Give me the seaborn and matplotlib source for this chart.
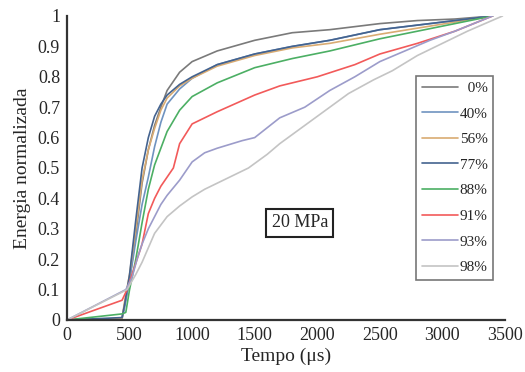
import matplotlib
matplotlib.use("Agg")
import matplotlib.pyplot as plt
import seaborn as sns
import pandas as pd

sns.set_style("white")
plt.rcParams['font.family'] = ['Liberation Serif', 'DejaVu Serif']

labels = ["0%", "40%", "56%", "77%", "88%", "91%", "93%", "98%"]
colors = ["#7a7a7a", "#6f93c0", "#d9ab72", "#44638f", "#4caf64", "#f25a5a", "#9c9cca", "#c4c4c4"]

t_a = [0, 440, 460, 500, 550, 600, 650, 700, 750, 800, 900, 1000, 1200, 1500, 1800, 2100, 2500, 2800, 3100, 3400]
e_0 = [0, 0.005, 0.05, 0.13, 0.28, 0.45, 0.56, 0.64, 0.70, 0.755, 0.815, 0.85, 0.885, 0.92, 0.945, 0.955, 0.975, 0.985, 0.99, 1.0]
e_40 = [0, 0.005, 0.04, 0.13, 0.26, 0.38, 0.47, 0.57, 0.65, 0.71, 0.76, 0.795, 0.84, 0.875, 0.90, 0.92, 0.955, 0.97, 0.985, 1.0]
e_56 = [0, 0.005, 0.06, 0.15, 0.30, 0.46, 0.56, 0.63, 0.69, 0.73, 0.77, 0.795, 0.835, 0.87, 0.895, 0.91, 0.94, 0.96, 0.98, 1.0]
e_77 = [0, 0.008, 0.05, 0.15, 0.33, 0.50, 0.60, 0.67, 0.71, 0.74, 0.775, 0.80, 0.84, 0.875, 0.90, 0.92, 0.955, 0.97, 0.985, 1.0]

t_88 = [0, 440, 470, 500, 550, 600, 650, 700, 800, 900, 1000, 1200, 1500, 1800, 2100, 2500, 2800, 3100, 3400]
e_88 = [0, 0.02, 0.025, 0.10, 0.20, 0.32, 0.43, 0.51, 0.62, 0.69, 0.735, 0.78, 0.83, 0.86, 0.885, 0.925, 0.95, 0.975, 1.0]

t_91 = [0, 440, 480, 520, 560, 600, 650, 700, 750, 800, 850, 900, 1000, 1200, 1500, 1700, 2000, 2300, 2500, 2800, 3100, 3400]
e_91 = [0, 0.065, 0.10, 0.15, 0.20, 0.25, 0.35, 0.40, 0.44, 0.47, 0.50, 0.58, 0.645, 0.685, 0.74, 0.77, 0.80, 0.84, 0.875, 0.91, 0.95, 1.0]

t_93 = [0, 470, 520, 560, 600, 650, 700, 750, 800, 900, 1000, 1100, 1200, 1400, 1500, 1700, 1900, 2100, 2300, 2500, 2700, 2900, 3100, 3400]
e_93 = [0, 0.10, 0.14, 0.20, 0.25, 0.30, 0.34, 0.38, 0.41, 0.46, 0.52, 0.55, 0.565, 0.59, 0.60, 0.665, 0.70, 0.755, 0.80, 0.85, 0.885, 0.92, 0.95, 1.0]

t_98 = [0, 480, 550, 600, 700, 800, 900, 1000, 1100, 1200, 1300, 1450, 1600, 1700, 1900, 2100, 2250, 2450, 2600, 2800, 3000, 3200, 3480]
e_98 = [0, 0.10, 0.15, 0.19, 0.285, 0.34, 0.375, 0.405, 0.43, 0.45, 0.47, 0.50, 0.545, 0.58, 0.64, 0.70, 0.745, 0.79, 0.82, 0.87, 0.91, 0.95, 1.0]

series = [(t_a, e_0), (t_a, e_40), (t_a, e_56), (t_a, e_77),
          (t_88, e_88), (t_91, e_91), (t_93, e_93), (t_98, e_98)]

rows = []
for lab, (tt, ee) in zip(labels, series):
    for a, b in zip(tt, ee):
        rows.append({"t": a, "E": b, "grupo": lab})
df = pd.DataFrame(rows)

fig = plt.figure(figsize=(5.25, 3.72), dpi=100)
ax = fig.add_axes([0.1276, 0.1398, 0.8343, 0.8172])

sns.lineplot(data=df, x="t", y="E", hue="grupo", hue_order=labels,
             palette=dict(zip(labels, colors)), sort=False, estimator=None,
             linewidth=1.2, ax=ax, legend=True)

ax.set_xlim(0, 3500)
ax.set_ylim(0, 1)
ax.set_xticks(range(0, 3501, 500))
ax.set_yticks([i / 10 for i in range(11)])
ax.set_yticklabels(["0", "0.1", "0.2", "0.3", "0.4", "0.5", "0.6", "0.7", "0.8", "0.9", "1"])
ax.tick_params(axis="x", direction="in", length=4, width=1, labelsize=13, pad=5, color="#333333")
ax.tick_params(axis="y", direction="out", length=3, width=1, labelsize=13, pad=2, color="#333333")
for side in ["top", "right"]:
    ax.spines[side].set_visible(False)
for side in ["left", "bottom"]:
    ax.spines[side].set_color("#333333")
    ax.spines[side].set_linewidth(1.6)

ax.set_xlabel("Tempo (μs)", fontsize=14, labelpad=3)
ax.set_ylabel("Energia normalizada", fontsize=14, labelpad=5)

handles, _ = ax.get_legend_handles_labels()
padded = [lab.rjust(3, "\u2007") for lab in labels]
leg = ax.legend(handles, padded, loc="upper right", bbox_to_anchor=(0.99, 0.828), fontsize=11,
                frameon=True, fancybox=False, handlelength=2.4, handletextpad=0.1,
                labelspacing=0.78, borderpad=0.35)
leg.get_frame().set_edgecolor("#555555")
leg.get_frame().set_linewidth(1.2)

ax.text(1861, 0.32, "20 MPa", fontsize=13, ha="center", va="center",
        bbox=dict(boxstyle="square,pad=0.3", facecolor="white", edgecolor="#222222", linewidth=1.5))

fig.savefig("out.png", dpi=100)
